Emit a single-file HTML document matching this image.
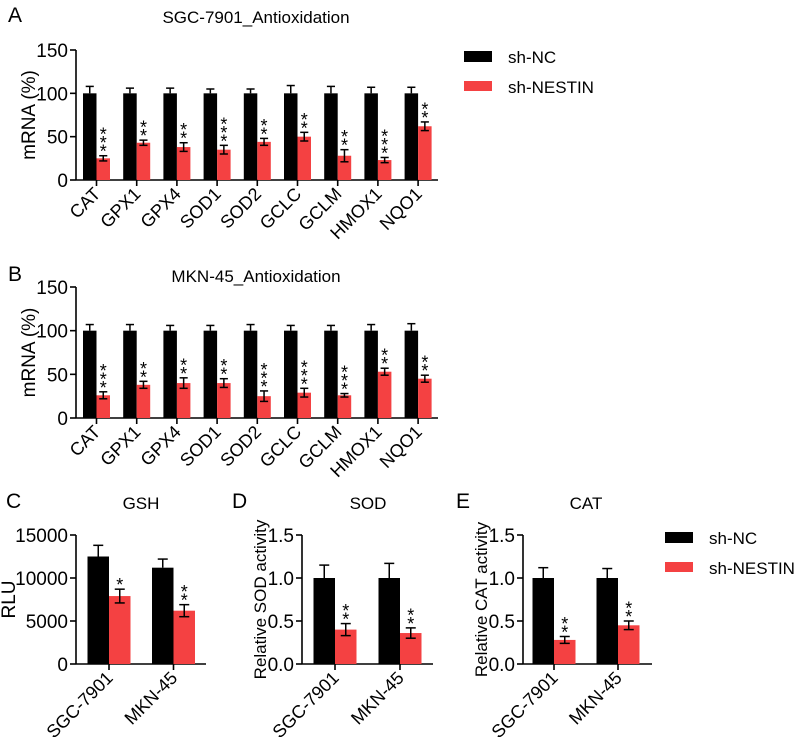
<!DOCTYPE html>
<html><head><meta charset="utf-8">
<style>
body{margin:0;background:#fff;}
svg{display:block;font-family:"Liberation Sans",Arial,sans-serif;}
</style></head>
<body>
<svg id="fig" width="796" height="746" viewBox="0 0 796 746" xmlns="http://www.w3.org/2000/svg"></svg>
<script>
const genes = ["CAT","GPX1","GPX4","SOD1","SOD2","GCLC","GCLM","HMOX1","NQO1"];
const aNC = [100,100,100,100,100,100,100,100,100];
const aNCerr = [8,6,6,5,5,9,8,7,7];
const aKD = [25,43,38,35,44,50,28,23,62];
const aKDerr = [3,3,5,5,4,5,7,3,5];
const aStars = [3,2,2,3,2,2,2,3,2];
const bNC = [100,100,100,100,100,100,100,100,100];
const bNCerr = [7,7,6,6,7,6,6,7,8];
const bKD = [26,38,40,40,25,29,26,53,45];
const bKDerr = [4,4,6,5,6,5,2,4,4];
const bStars = [3,2,2,2,3,3,3,2,2];
const cells = ["SGC-7901","MKN-45"];
const gshNC = [12500,11200];
const gshNCerr = [1300,1000];
const gshKD = [7900,6200];
const gshKDerr = [800,700];
const gshStars = [1,2];
const sodNC = [1.0,1.0];
const sodNCerr = [0.15,0.17];
const sodKD = [0.40,0.36];
const sodKDerr = [0.07,0.06];
const sodStars = [2,2];
const catNC = [1.0,1.0];
const catNCerr = [0.12,0.11];
const catKD = [0.28,0.45];
const catKDerr = [0.04,0.05];
const catStars = [2,2];
const ticksA = [0,50,100,150];
const ticksC = [0,5000,10000,15000];
const ticksD = [0,0.5,1.0,1.5];
const tickLabelsD = ["0.0","0.5","1.0","1.5"];

const svg = document.getElementById('fig');
const NS = "http://www.w3.org/2000/svg";
function el(tag, attrs, parent){const e=document.createElementNS(NS,tag);for(const k in attrs)e.setAttribute(k,attrs[k]);(parent||svg).appendChild(e);return e;}
function txt(s, attrs, parent){const e=el('text',attrs,parent);e.textContent=s;return e;}

function panel(o){
  const g = el('g',{});
  
  
  const ymax=o.ticks[o.ticks.length-1];
  const y = v => o.y0 - (v/ymax)*(o.y0-o.y1);
  const ax=el('line',{x1:o.ax,y1:o.y1,x2:o.ax,y2:o.y0,stroke:'#000','stroke-width':1.6},g);
  
  
  const xx=el('line',{x1:o.ax,y1:o.y0,x2:o.axEnd,y2:o.y0,stroke:'#000','stroke-width':1.6},g);
  
  
  o.ticks.forEach((t,i)=>{
    el('line',{x1:o.ax-6,y1:y(t),x2:o.ax,y2:y(t),stroke:'#000','stroke-width':1.6},g);
    const tl=txt(o.tickLabels?o.tickLabels[i]:String(t),{x:o.ax-8,y:y(t)+7,'text-anchor':'end','font-size':19},g);
    
    
  });
  const yl=txt(o.ylabel,{transform:`translate(${o.ylx},${(o.y0+o.y1)/2}) rotate(-90)`,'text-anchor':'middle','font-size':o.ylsize||19},g);
  
  
  o.cats.forEach((c,i)=>{
    const cx=o.first+i*o.step;
    const b1=el('rect',{x:cx-o.bw,y:y(o.nc[i]),width:o.bw,height:o.y0-y(o.nc[i]),fill:'#000'},g);
    
    
    const b2=el('rect',{x:cx,y:y(o.kd[i]),width:o.bw,height:o.y0-y(o.kd[i]),fill:'#f44142'},g);
    
    
    const ex1=cx-o.bw/2, ex2=cx+o.bw/2, cap=Math.min(o.bw*0.3,5);
    el('line',{x1:ex1,y1:y(o.nc[i]),x2:ex1,y2:y(o.nc[i]+o.ncErr[i]),stroke:'#000','stroke-width':1.5},g);
    el('line',{x1:ex1-cap,y1:y(o.nc[i]+o.ncErr[i]),x2:ex1+cap,y2:y(o.nc[i]+o.ncErr[i]),stroke:'#000','stroke-width':1.5},g);
    const top=y(o.kd[i]+o.kdErr[i]), bot=y(o.kd[i]-o.kdErr[i]);
    el('line',{x1:ex2,y1:top,x2:ex2,y2:bot,stroke:'#000','stroke-width':1.5},g);
    el('line',{x1:ex2-cap,y1:top,x2:ex2+cap,y2:top,stroke:'#000','stroke-width':1.5},g);
    el('line',{x1:ex2-cap,y1:bot,x2:ex2+cap,y2:bot,stroke:'#000','stroke-width':1.5},g);
    for(let s=0;s<o.stars[i];s++){
      const st=txt('*',{x:ex2,y:top+2-s*8.5,'text-anchor':'middle','font-size':18},g);
      
      
    }
    el('line',{x1:cx,y1:o.y0,x2:cx,y2:o.y0+6,stroke:'#000','stroke-width':1.6},g);
    const xl=txt(c,{transform:`translate(${cx+5},${o.y0+15}) rotate(-45)`,'text-anchor':'end','font-size':18},g);
    
    
  });
}
function label(s,x,y,size,name){const t=txt(s,{x:x,y:y,'font-size':size,'text-anchor':name.endsWith('title')?'middle':'start'});}
function legend(x,y1,y2){
  const g=el('g',{});
  
  
  const r1=el('rect',{x:x,y:y1,width:28,height:11,fill:'#000'},g);
  
  
  txt('sh-NC',{x:x+44,y:y1+12,'font-size':17},g);
  const r2=el('rect',{x:x,y:y2,width:28,height:10,fill:'#f44142'},g);
  
  
  txt('sh-NESTIN',{x:x+44,y:y2+12,'font-size':17},g);
}

label('A',8,22,21,'panel-label-a');
label('SGC-7901_Antioxidation',256,23,17,'panel-a-title');
panel({name:'panel-a-chart',cats:genes,nc:aNC,ncErr:aNCerr,kd:aKD,kdErr:aKDerr,stars:aStars,ticks:ticksA,
  ax:76,axEnd:438,y0:180,y1:50,first:96.5,step:40.2,bw:13.5,ylabel:'mRNA (%)',ylx:35});
legend(464,51,81);

label('B',8,281,21,'panel-label-b');
label('MKN-45_Antioxidation',256,282,17,'panel-b-title');
panel({name:'panel-b-chart',cats:genes,nc:bNC,ncErr:bNCerr,kd:bKD,kdErr:bKDerr,stars:bStars,ticks:ticksA,
  ax:76,axEnd:438,y0:418,y1:287,first:96.5,step:40.2,bw:13.5,ylabel:'mRNA (%)',ylx:35});

label('C',6,508,21,'panel-label-c');
label('GSH',141,509,17,'panel-c-title');
panel({name:'panel-c-chart',cats:cells,nc:gshNC,ncErr:gshNCerr,kd:gshKD,kdErr:gshKDerr,stars:gshStars,ticks:ticksC,
  ax:76,axEnd:206,y0:664,y1:535,first:109,step:64.5,bw:21.5,ylabel:'RLU',ylx:15});

label('D',232,508,21,'panel-label-d');
label('SOD',368,509,17,'panel-d-title');
panel({name:'panel-d-chart',cats:cells,nc:sodNC,ncErr:sodNCerr,kd:sodKD,kdErr:sodKDerr,stars:sodStars,ticks:ticksD,tickLabels:tickLabelsD,
  ax:302,axEnd:433,y0:664,y1:535,first:335,step:65,bw:21.5,ylabel:'Relative SOD activity',ylx:266,ylsize:17});

label('E',456,508,21,'panel-label-e');
label('CAT',586,509,17,'panel-e-title');
panel({name:'panel-e-chart',cats:cells,nc:catNC,ncErr:catNCerr,kd:catKD,kdErr:catKDerr,stars:catStars,ticks:ticksD,tickLabels:tickLabelsD,
  ax:523,axEnd:652,y0:664,y1:535,first:554,step:64,bw:21.5,ylabel:'Relative CAT activity',ylx:487,ylsize:17});
legend(665,532,562);
</script>
</body></html>
